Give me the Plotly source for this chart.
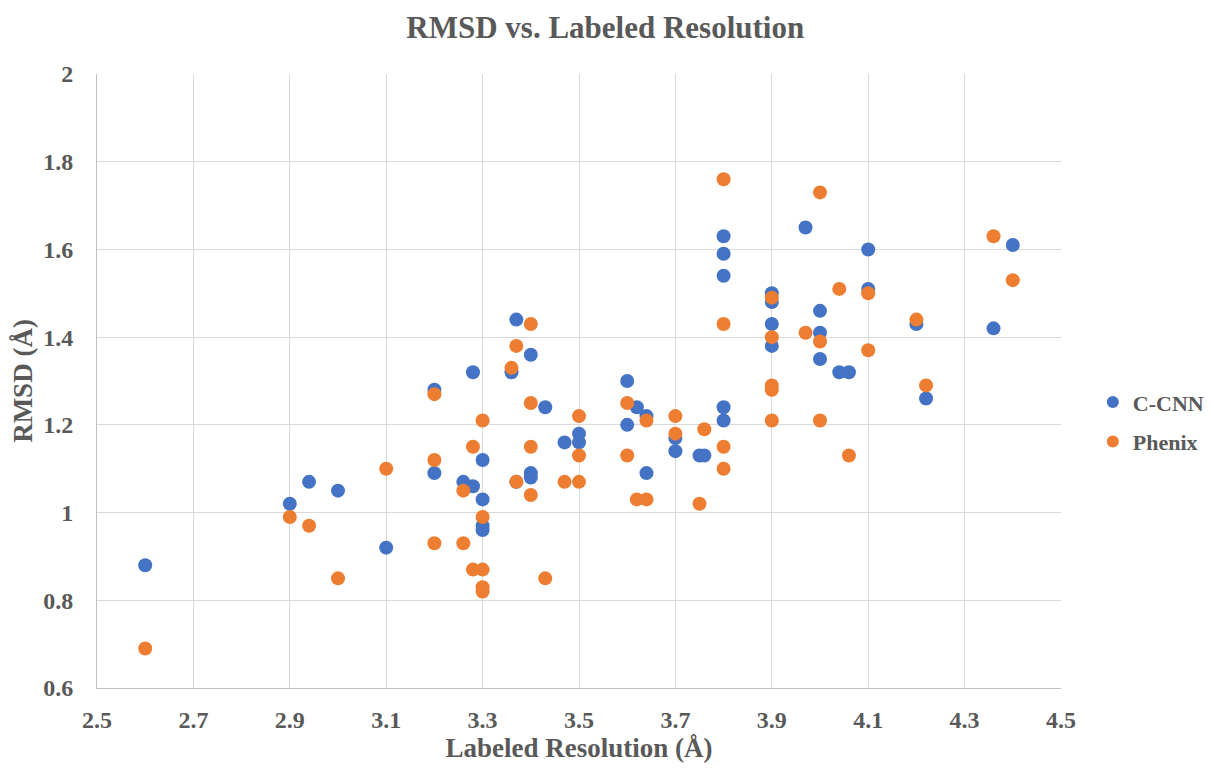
import plotly.graph_objects as go

# C-CNN series
ccnn_res = [2.6, 2.9, 2.94, 3.0, 3.1, 3.2, 3.2, 3.26, 3.28, 3.28, 3.3, 3.3, 3.3, 3.3,
            3.36, 3.37, 3.37, 3.4, 3.4, 3.4, 3.43, 3.47, 3.5, 3.5, 3.6, 3.6, 3.62, 3.64,
            3.64, 3.7, 3.7, 3.75, 3.76, 3.8, 3.8, 3.8, 3.8, 3.8, 3.9, 3.9, 3.9, 3.9,
            3.97, 4.0, 4.0, 4.0, 4.04, 4.06, 4.1, 4.1, 4.2, 4.22, 4.36, 4.4]
ccnn_rmsd = [0.88, 1.02, 1.07, 1.05, 0.92, 1.28, 1.09, 1.07, 1.32, 1.06, 1.12, 1.03, 0.97, 0.96,
             1.32, 1.44, 1.07, 1.36, 1.09, 1.08, 1.24, 1.16, 1.18, 1.16, 1.30, 1.20, 1.24, 1.22,
             1.09, 1.17, 1.14, 1.13, 1.13, 1.63, 1.59, 1.54, 1.24, 1.21, 1.50, 1.48, 1.43, 1.38,
             1.65, 1.46, 1.41, 1.35, 1.32, 1.32, 1.60, 1.51, 1.43, 1.26, 1.42, 1.61]

# Phenix series
phenix_res = [2.6, 2.9, 2.94, 3.0, 3.1, 3.2, 3.2, 3.2, 3.26, 3.26, 3.28, 3.28, 3.3, 3.3,
              3.3, 3.3, 3.3, 3.36, 3.37, 3.37, 3.4, 3.4, 3.4, 3.4, 3.43, 3.47, 3.5, 3.5,
              3.5, 3.6, 3.6, 3.62, 3.64, 3.64, 3.7, 3.7, 3.75, 3.76, 3.8, 3.8, 3.8, 3.8,
              3.9, 3.9, 3.9, 3.9, 3.9, 3.97, 4.0, 4.0, 4.0, 4.04, 4.06, 4.1, 4.1, 4.2,
              4.22, 4.36, 4.4]
phenix_rmsd = [0.69, 0.99, 0.97, 0.85, 1.10, 1.27, 1.12, 0.93, 1.05, 0.93, 1.15, 0.87, 1.21, 0.99,
               0.87, 0.83, 0.82, 1.33, 1.38, 1.07, 1.43, 1.25, 1.15, 1.04, 0.85, 1.07, 1.22, 1.13,
               1.07, 1.25, 1.13, 1.03, 1.21, 1.03, 1.22, 1.18, 1.02, 1.19, 1.76, 1.43, 1.15, 1.10,
               1.49, 1.40, 1.29, 1.28, 1.21, 1.41, 1.73, 1.39, 1.21, 1.51, 1.13, 1.50, 1.37, 1.44,
               1.29, 1.63, 1.53]

x_ticks = [2.5, 2.7, 2.9, 3.1, 3.3, 3.5, 3.7, 3.9, 4.1, 4.3, 4.5]
y_ticks = [0.6, 0.8, 1.0, 1.2, 1.4, 1.6, 1.8, 2.0]
y_tick_labels = ["0.6", "0.8", "1", "1.2", "1.4", "1.6", "1.8", "2"]

FONT = "Liberation Serif, Times New Roman, serif"
GREY = "#595959"

fig = go.Figure()
fig.add_trace(go.Scatter(x=ccnn_res, y=ccnn_rmsd, mode="markers", name="<b>C-CNN</b>",
                         legendgroup="a",
                         marker=dict(color="#4472C4", size=14)))
fig.add_trace(go.Scatter(x=phenix_res, y=phenix_rmsd, mode="markers", name="<b>Phenix</b>",
                         legendgroup="b",
                         marker=dict(color="#ED7D31", size=14)))

fig.update_layout(
    width=1214, height=768,
    margin=dict(l=89, r=161, t=66, b=88, autoexpand=False),
    paper_bgcolor="white", plot_bgcolor="white",
    font=dict(family=FONT, color=GREY),
    title=dict(text="<b>RMSD vs. Labeled Resolution</b>", x=0.492, xanchor="center",
               y=0.975, yanchor="middle", font=dict(size=31, family=FONT, color=GREY)),
    legend=dict(x=1.033, xanchor="left", y=0.433, yanchor="middle",
                font=dict(size=22, family=FONT, color=GREY), tracegroupgap=8,
                traceorder="grouped", itemsizing="constant", itemwidth=30),
    showlegend=True,
)
fig.update_xaxes(range=[2.5, 4.5], tickvals=x_ticks, ticktext=[f"<b>{v:.1f}</b>" for v in x_ticks],
                 showgrid=True, gridcolor="#D9D9D9", gridwidth=1,
                 showline=True, linecolor="#BFBFBF", linewidth=1, mirror=False,
                 zeroline=False, ticks="", ticklabelstandoff=10,
                 tickfont=dict(size=24, family=FONT, color=GREY),
                 title=dict(text="<b>Labeled Resolution (Å)</b>", font=dict(size=27, family=FONT, color=GREY),
                            standoff=6))
fig.update_yaxes(range=[0.6, 2.0], tickvals=y_ticks, ticktext=[f"<b>{t}</b>" for t in y_tick_labels],
                 showgrid=True, gridcolor="#D9D9D9", gridwidth=1,
                 showline=True, linecolor="#BFBFBF", linewidth=1,
                 zeroline=False, ticks="", ticklabelstandoff=18,
                 tickfont=dict(size=24, family=FONT, color=GREY),
                 title=dict(text="<b>RMSD (Å)</b>", font=dict(size=27, family=FONT, color=GREY),
                            standoff=8))

fig.write_html("out.html")
